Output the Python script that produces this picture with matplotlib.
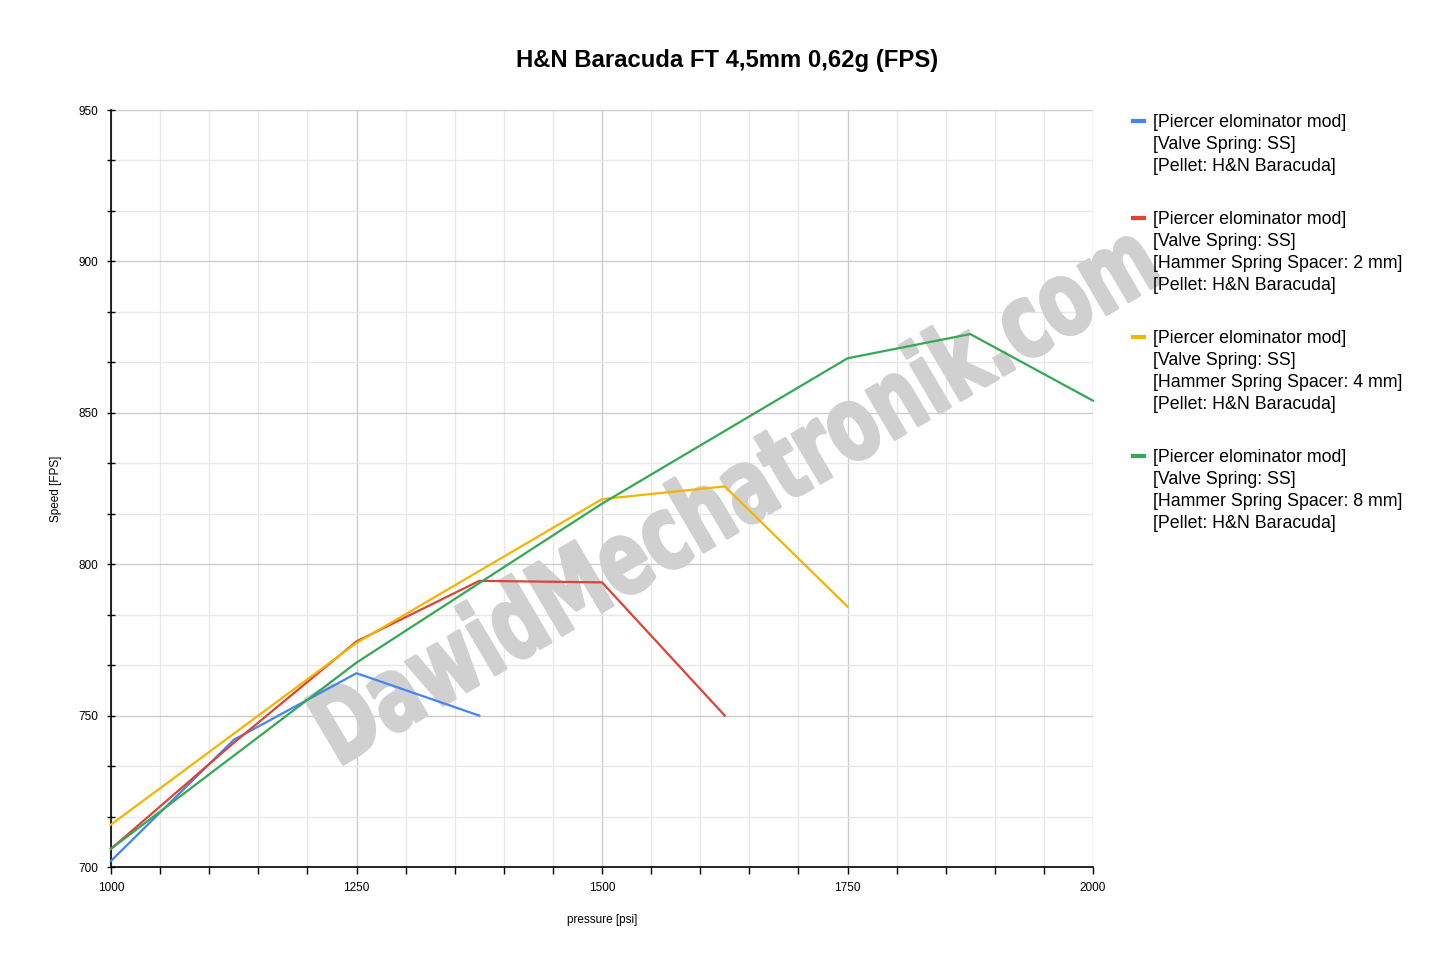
import numpy as np
import matplotlib
matplotlib.use("Agg")
import matplotlib.pyplot as plt
from matplotlib.lines import Line2D
from matplotlib.ticker import MultipleLocator
from matplotlib.textpath import TextPath
from matplotlib.patches import PathPatch
from matplotlib.font_manager import FontProperties
from matplotlib.transforms import Affine2D

plt.rcParams['font.family'] = ['Liberation Sans', 'DejaVu Sans']

# data
blue_x = [1000, 1125, 1250, 1375]
blue_y = [702, 742, 764, 750]
red_x = [1000, 1125, 1250, 1375, 1500, 1625]
red_y = [706, 741, 774.5, 794.5, 794, 750]
yellow_x = [1000, 1250, 1500, 1625, 1750]
yellow_y = [714, 774, 821.5, 825.7, 786]
green_x = [1000, 1250, 1500, 1750, 1875, 2000]
green_y = [706, 767.5, 820, 868, 876, 854]

series_x = [blue_x, red_x, yellow_x, green_x]
series_y = [blue_y, red_y, yellow_y, green_y]
colors = ['#4285f4', '#db4437', '#f4b400', '#34a853']
labels = [
    "[Piercer elominator mod]\n[Valve Spring: SS]\n[Pellet: H&N Baracuda]",
    "[Piercer elominator mod]\n[Valve Spring: SS]\n[Hammer Spring Spacer: 2 mm]\n[Pellet: H&N Baracuda]",
    "[Piercer elominator mod]\n[Valve Spring: SS]\n[Hammer Spring Spacer: 4 mm]\n[Pellet: H&N Baracuda]",
    "[Piercer elominator mod]\n[Valve Spring: SS]\n[Hammer Spring Spacer: 8 mm]\n[Pellet: H&N Baracuda]",
]
title = "H&N Baracuda FT 4,5mm 0,62g (FPS)"
watermark = "DawidMechatronik.com"

W, H = 1444, 971
fig = plt.figure(figsize=(W / 100, H / 100), dpi=100)
ax = fig.add_axes([111 / W, 1 - 867 / H, (1093 - 111) / W, (867 - 110) / H])

# watermark: condensed heavy text, drawn in pixel coords under the lines
tp = TextPath((0, 0), watermark, size=1,
              prop=FontProperties(family='DejaVu Sans', weight='bold'))
bb = tp.get_extents()
wm_tr = (Affine2D()
         .translate(-(bb.x0 + bb.x1) / 2, -(bb.y0 + bb.y1) / 2)
         .scale(950 / bb.width, 80 / bb.height)
         .rotate_deg(30.5)
         .translate(733, H - 490))
wm = PathPatch(tp, transform=wm_tr, facecolor='#d0d0d0', edgecolor='#d0d0d0',
               lw=2.2, joinstyle='round', zorder=1.5, clip_on=False)
ax.add_patch(wm)

for x, y, c in zip(series_x, series_y, colors):
    ax.plot(x, y, color=c, lw=1.6, zorder=3, clip_on=False)

ax.set_xlim(1000, 2000)
ax.set_ylim(700, 950)
ax.xaxis.set_major_locator(MultipleLocator(250))
ax.xaxis.set_minor_locator(MultipleLocator(50))
ax.yaxis.set_major_locator(MultipleLocator(50))
ax.yaxis.set_minor_locator(MultipleLocator(50 / 3))
ax.grid(which='major', color='#cccccc', lw=1, zorder=0)
ax.grid(which='minor', color='#e8e8e8', lw=1, zorder=0)
ax.set_axisbelow(True)
for s in ['top', 'right']:
    ax.spines[s].set_visible(False)
for s in ['left', 'bottom']:
    ax.spines[s].set_color('black')
    ax.spines[s].set_linewidth(1.2)
ax.tick_params(axis='x', which='both', direction='out', length=5, width=1,
               labelsize=8.5, pad=6)
ax.tick_params(axis='y', which='both', direction='inout', length=6, width=1,
               labelsize=8.5, pad=6)
ax.set_xlabel("pressure [psi]", fontsize=8.5, labelpad=14)
ax.set_ylabel("Speed [FPS]", fontsize=8.5, labelpad=12)

fig.text(727 / W, 1 - 60 / H, title, ha='center', va='center',
         fontsize=17.2, fontweight='bold')

# legend
tops = [121, 218, 337, 456]
for top, lab, c in zip(tops, labels, colors):
    fig.text(1153 / W, 1 - (top - 7) / H, lab, ha='left', va='top',
             fontsize=12.8, linespacing=1.38)
    fig.add_artist(Line2D([1133 / W, 1144 / W], [1 - top / H, 1 - top / H],
                          transform=fig.transFigure, color=c, lw=3))

fig.savefig("out.png", dpi=100)
